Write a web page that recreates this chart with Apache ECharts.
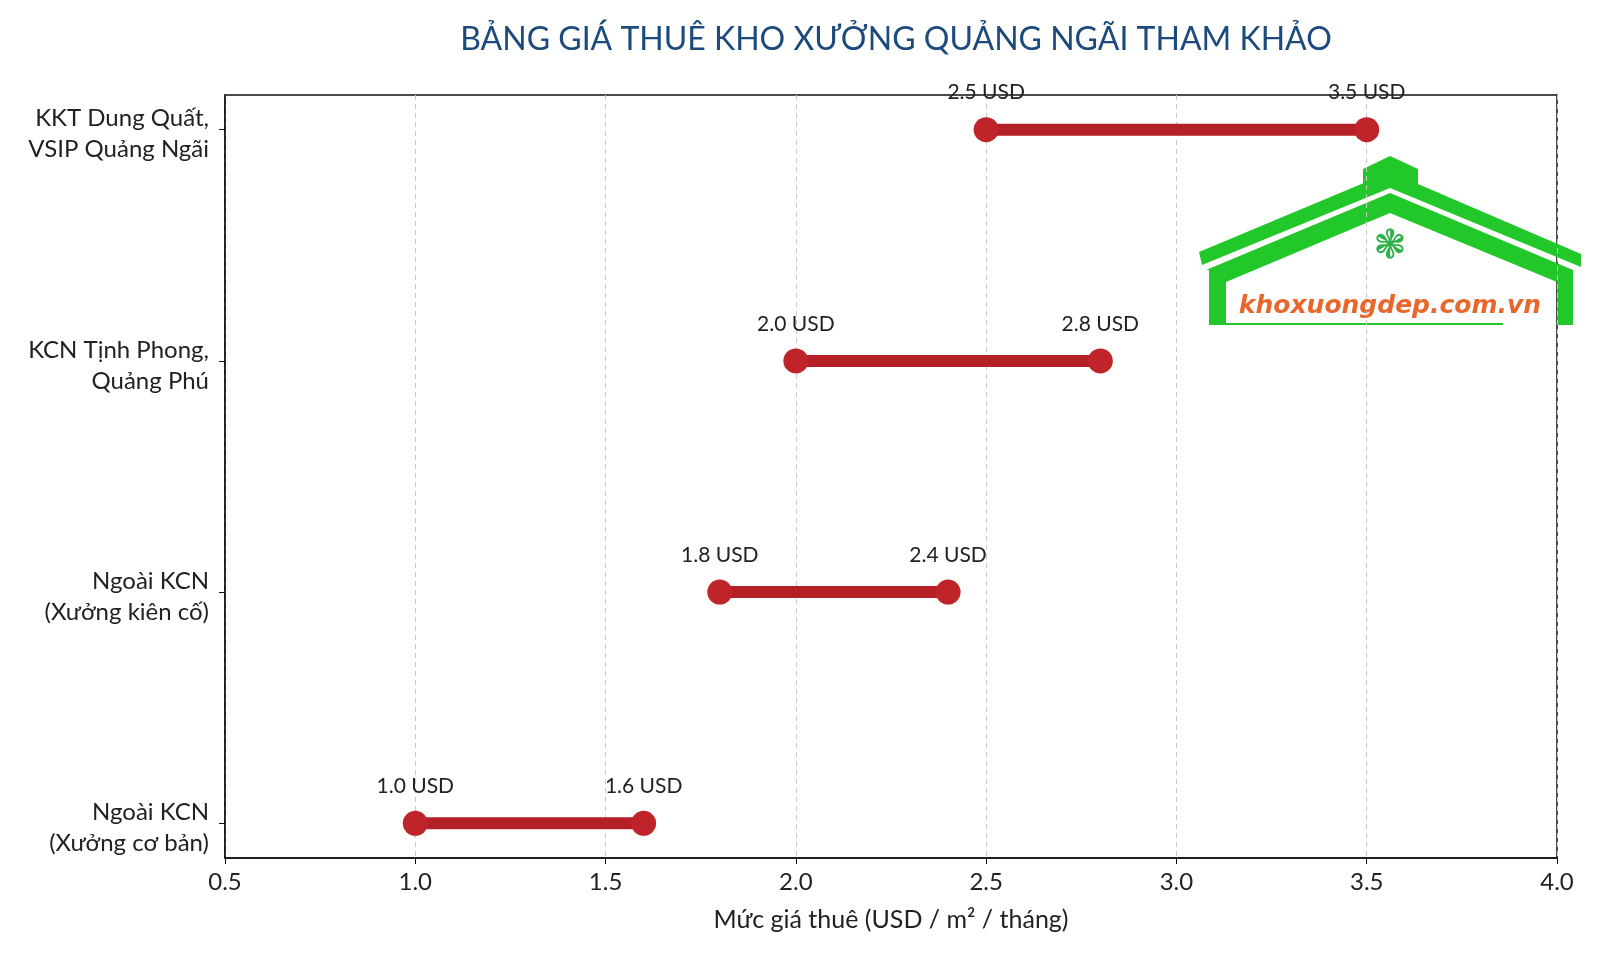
<!DOCTYPE html>
<html>
<head>
<meta charset="utf-8">
<script src="https://cdn.jsdelivr.net/npm/echarts@6/dist/echarts.min.js"></script>
<style>html,body{margin:0;padding:0;background:#fff}#c{width:1600px;height:960px}</style>
</head>
<body>
<div id="c"></div>
<script>
const categories = ['KKT Dung Quất,\nVSIP Quảng Ngãi', 'KCN Tịnh Phong,\nQuảng Phú', 'Ngoài KCN\n(Xưởng kiên cố)', 'Ngoài KCN\n(Xưởng cơ bản)'];
const minPrice = [2.5, 2.0, 1.8, 1.0];
const maxPrice = [3.5, 2.8, 2.4, 1.6];
const xTicks = [0.5, 1.0, 1.5, 2.0, 2.5, 3.0, 3.5, 4.0];
const titleText = 'BẢNG GIÁ THUÊ KHO XƯỞNG QUẢNG NGÃI THAM KHẢO';
const xName = 'Mức giá thuê (USD / m² / tháng)';

const FONT = 'Lato';
const RED = '#b51f26';
const GREEN = '#22c72a';

const series = categories.map((c, i) => ({
  type: 'line',
  clip: false,
  data: [[minPrice[i], i], [maxPrice[i], i]],
  symbol: 'circle',
  symbolSize: 25,
  lineStyle: { color: RED, width: 12 },
  itemStyle: { color: '#c0242b' },
  label: {
    show: true, position: 'top', distance: 14,
    fontFamily: FONT, fontSize: 21, color: '#222',
    formatter: p => p.value[0].toFixed(1) + ' USD'
  },
  z: 3
}));

const chart = echarts.init(document.getElementById('c'));
chart.setOption({
  backgroundColor: '#fff',
  animation: false,
  title: {
    text: titleText, left: 891, top: 19, textAlign: 'center',
    textStyle: { fontFamily: FONT, fontSize: 32, fontWeight: 'normal', color: '#1d4a7c' }
  },
  grid: { left: 225, right: 43, top: 95, bottom: 102, show: true, borderColor: '#111', borderWidth: 1.5 },
  xAxis: {
    type: 'value', min: xTicks[0], max: xTicks[xTicks.length - 1], interval: 0.5,
    name: xName, nameLocation: 'middle', nameGap: 49,
    nameTextStyle: { fontFamily: FONT, fontSize: 25, color: '#222' },
    axisLine: { show: true, onZero: false, lineStyle: { color: '#111', width: 1.5 } },
    axisTick: { show: true, length: 6, lineStyle: { color: '#111' } },
    axisLabel: { fontFamily: FONT, fontSize: 24, color: '#222', margin: 12, formatter: v => v.toFixed(1) },
    splitLine: { show: true, lineStyle: { color: '#c8c8c8', type: [5, 4], width: 1 } }
  },
  yAxis: {
    type: 'value', min: -0.15, max: 3.15, inverse: true,
    axisLine: { show: true, onZero: false, lineStyle: { color: '#111', width: 1.5 } },
    axisTick: { show: true, length: 6, customValues: [0, 1, 2, 3], lineStyle: { color: '#111' } },
    axisLabel: {
      customValues: [0, 1, 2, 3], fontFamily: FONT, fontSize: 24, color: '#222',
      align: 'right', margin: 16,
      formatter: v => {
        const parts = categories[v].split('\n');
        return '{a|' + parts[0] + '}\n{b|' + parts[1] + '}';
      },
      rich: {
        a: { fontFamily: FONT, fontSize: 24, color: '#222', lineHeight: 28, padding: [6, 0, 0, 0], align: 'right' },
        b: { fontFamily: FONT, fontSize: 24, color: '#222', lineHeight: 28, padding: [12, 0, 0, 0], align: 'right' }
      }
    },
    splitLine: { show: false }
  },
  series: series,
  graphic: [
    { type: 'group', z: 10, children: [
      { type: 'polygon', shape: { points: [[1199,252],[1390,172],[1581,254],[1581,267],[1390,188],[1202,265]] }, style: { fill: GREEN } },
      { type: 'polygon', shape: { points: [[1206,270],[1390,193],[1573,270],[1573,325],[1557,325],[1557,282],[1390,213],[1226,282],[1226,325],[1209,325],[1209,270]] }, style: { fill: GREEN } },
      { type: 'polygon', shape: { points: [[1363,169],[1390,156],[1418,169],[1418,186],[1363,186]] }, style: { fill: GREEN } },
      { type: 'line', shape: { x1: 1226, y1: 324, x2: 1503, y2: 324 }, style: { stroke: GREEN, lineWidth: 2 } },
      { type: 'text', x: 1390, y: 248, style: { text: '❃', fontFamily: 'DejaVu Sans', fontSize: 40, fill: '#2fb04a', align: 'center', verticalAlign: 'middle' } },
      { type: 'text', x: 1390, y: 306, style: { text: 'khoxuongdep.com.vn', fontFamily: 'DejaVu Sans', fontWeight: 'bold', fontStyle: 'italic', fontSize: 25, fill: '#e8672c', align: 'center', verticalAlign: 'middle' } }
    ]}
  ]
});
</script>
</body>
</html>
